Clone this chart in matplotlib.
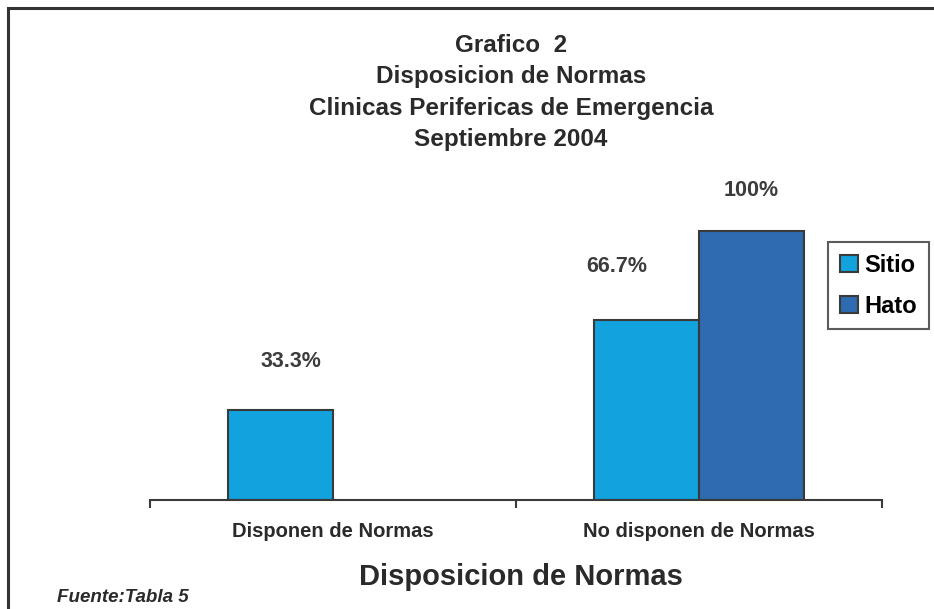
import matplotlib
matplotlib.use("Agg")
import matplotlib.pyplot as plt
from matplotlib.patches import Rectangle, Patch
import numpy as np

categories = ["Disponen de Normas", "No disponen de Normas"]
series_names = ["Sitio", "Hato"]
sitio = [33.3, 66.7]
hato = [0.0, 100.0]
value_labels_sitio = ["33.3%", "66.7%"]
value_labels_hato = ["", "100%"]
title_lines = ["Grafico  2", "Disposicion de Normas", "Clinicas Perifericas de Emergencia", "Septiembre 2004"]
xlabel = "Disposicion de Normas"
source = "Fuente:Tabla 5"

plt.rcParams['font.family'] = ['Liberation Sans', 'DejaVu Sans']
W, H = 934, 609
fig = plt.figure(figsize=(W / 100, H / 100), dpi=100)

# outer frame (top and left visible)
fig.add_artist(Rectangle((8 / W, -0.1), 1.2, (1 - 8 / H) + 0.1, transform=fig.transFigure,
                         fill=False, edgecolor='#333333', linewidth=2.2))

ax = fig.add_axes([150 / W, 109 / H, 732 / W, 323 / H])
x = np.arange(len(categories))
w = 0.287
col_s = '#12A2DE'
col_h = '#2F6BB0'
edge = '#3a3a3a'
b1 = ax.bar(x - w / 2, sitio, w, color=col_s, edgecolor=edge, linewidth=1.5)
b2 = ax.bar(x + w / 2, hato, w, color=col_h, edgecolor=edge, linewidth=1.5)
for r, v in zip(b2, hato):
    if v == 0:
        r.set_visible(False)

ax.set_xlim(-0.5, 1.5)
ax.set_ylim(0, 120)
for s in ['top', 'right', 'left']:
    ax.spines[s].set_visible(False)
ax.spines['bottom'].set_color(edge)
ax.spines['bottom'].set_linewidth(1.5)
ax.set_yticks([])
ax.set_xticks([-0.5, 0.5, 1.5], minor=False)
ax.set_xticklabels([])
ax.tick_params(axis='x', which='major', length=6, width=1.5, color=edge, direction='out')
ax.set_xticks(x, minor=True)
ax.set_xticklabels(categories, minor=True, fontsize=14.5, fontweight='bold', color='#2a2a2a')
ax.tick_params(axis='x', which='minor', length=0, pad=16)

offsets_s = [18, 20]
xshift_s = [0.03, -0.08]
for i, (v, t) in enumerate(zip(sitio, value_labels_sitio)):
    if t:
        ax.text(x[i] - w / 2 + xshift_s[i], v + offsets_s[i], t, ha='center', va='center',
                fontsize=15.5, fontweight='bold', color='#3c3c3c')
for i, (v, t) in enumerate(zip(hato, value_labels_hato)):
    if t:
        ax.text(x[i] + w / 2, v + 15, t, ha='center', va='center',
                fontsize=15.5, fontweight='bold', color='#3c3c3c')

ys = [45, 76, 108, 140]
for yy, t in zip(ys, title_lines):
    fig.text(511 / W, 1 - yy / H, t, ha='center', va='center', fontsize=17.5,
             fontweight='bold', color='#2a2a2a')

fig.text(521 / W, 1 - 577 / H, xlabel, ha='center', va='center', fontsize=21,
         fontweight='bold', color='#2a2a2a')
fig.text(57 / W, 1 - 597 / H, source, ha='left', va='center', fontsize=13.5,
         fontweight='bold', style='italic', color='#2a2a2a')

handles = [Patch(facecolor=col_s, edgecolor=edge, linewidth=1.5),
           Patch(facecolor=col_h, edgecolor=edge, linewidth=1.5)]
leg = fig.legend(handles=handles, labels=series_names, loc='upper left',
                 bbox_to_anchor=(828 / W, 1 - 242 / H), frameon=True,
                 prop={'weight': 'bold', 'size': 17}, handlelength=0.75, handleheight=0.75,
                 handletextpad=0.3, labelspacing=0.75, borderpad=0.5, fancybox=False,
                 borderaxespad=0)
leg.get_frame().set_edgecolor('#333333')
leg.get_frame().set_linewidth(1.5)

fig.savefig('out.png', dpi=100)
